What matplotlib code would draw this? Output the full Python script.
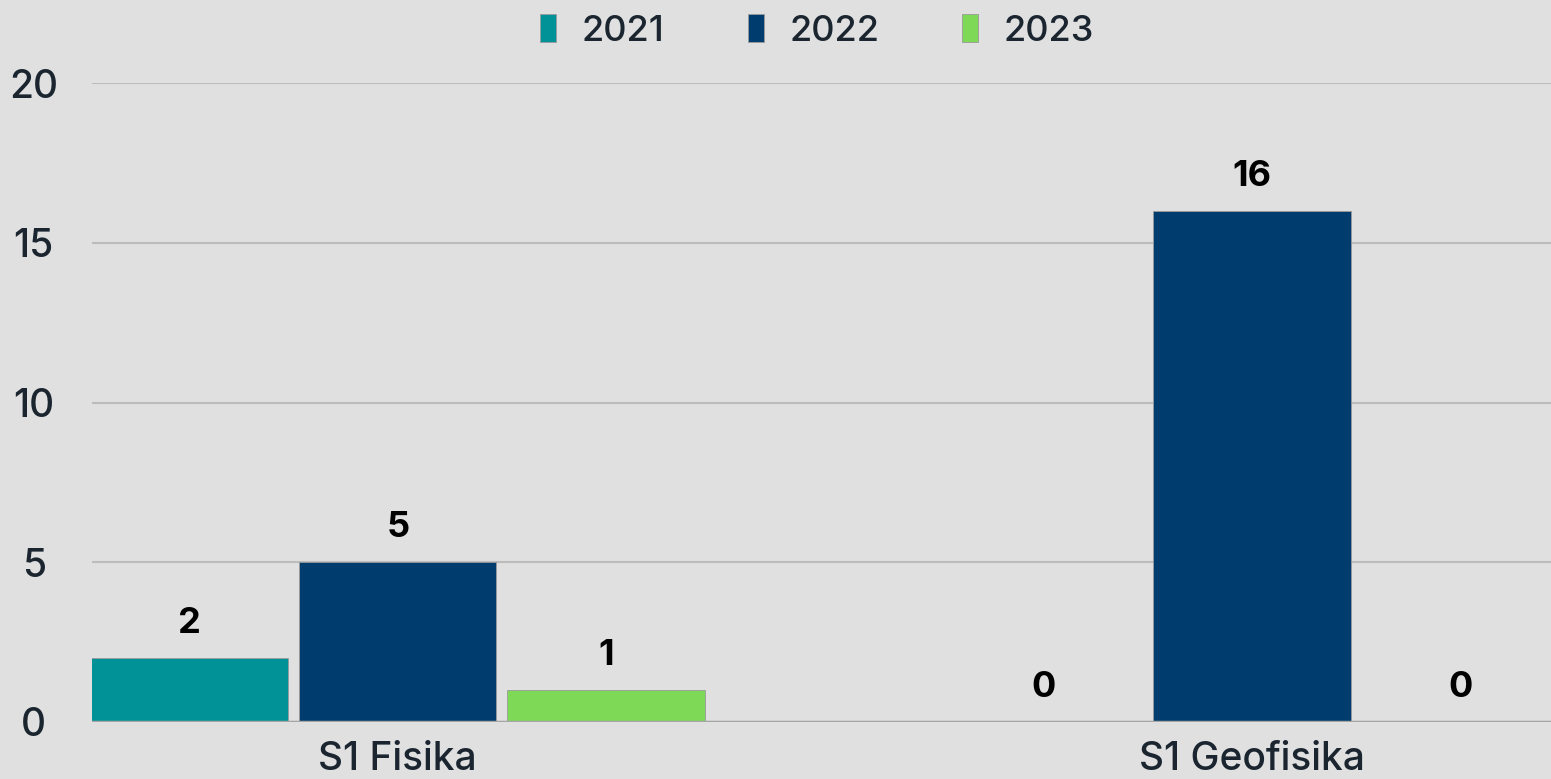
import matplotlib.pyplot as plt
import numpy as np

categories = ['S1 Fisika', 'S1 Geofisika']
years = ['2021', '2022', '2023']
values_2021 = [2, 0]
values_2022 = [5, 16]
values_2023 = [1, 0]
colors = ['#009296', '#003d6e', '#7ed957']

plt.rcParams['font.family'] = ['Inter', 'DejaVu Sans']

fig = plt.figure(figsize=(15.51, 7.79), dpi=100)
fig.patch.set_facecolor('#e0e0e0')
ax = fig.add_axes([92/1551, 1 - 722/779, 1 - 92/1551, (722 - 83)/779])
ax.set_facecolor('#e0e0e0')

x = np.arange(len(categories))
width = 0.231
step = 0.2436
series = [values_2021, values_2022, values_2023]
for i, (vals, yr, c) in enumerate(zip(series, years, colors)):
    pos = x + (i - 1) * step
    bars = ax.bar(pos, vals, width, color=c, label=yr, zorder=3,
                  edgecolor='#9a9a9a', linewidth=0.6)
    for p, v in zip(pos, vals):
        ax.annotate(str(v), (p, v), xytext=(0, 13), textcoords='offset points',
                    ha='center', va='bottom', fontsize=26, fontweight='bold',
                    color='black')

ax.set_ylim(0, 20)
ax.set_xlim(-0.358, 1.35)
ax.set_yticks([0, 5, 10, 15, 20])
ax.set_xticks(x)
ax.set_xticklabels(categories)
ax.grid(axis='y', color='#bcbcbc', linewidth=1.5, zorder=0)
ax.axhline(0, color='#a5a5a5', linewidth=2.5, zorder=4)
for s in ax.spines.values():
    s.set_visible(False)
ax.tick_params(axis='both', length=0, labelsize=28, colors='#1a2530')
ax.tick_params(axis='y', pad=42)
ax.tick_params(axis='x', pad=14)
for t in ax.get_yticklabels() + ax.get_xticklabels():
    t.set_fontweight('medium')
for t in ax.get_yticklabels():
    t.set_horizontalalignment('center')

leg = ax.legend(loc='center', bbox_to_anchor=(0.497, 1 + 52/639),
                ncol=3, frameon=False, fontsize=26, handlelength=0.45,
                handleheight=0.8, columnspacing=2.3, handletextpad=0.7,
                prop={'size': 26, 'weight': 'medium'})
for t in leg.get_texts():
    t.set_color('#1a2530')

fig.savefig('out.png', dpi=100, facecolor=fig.get_facecolor())
